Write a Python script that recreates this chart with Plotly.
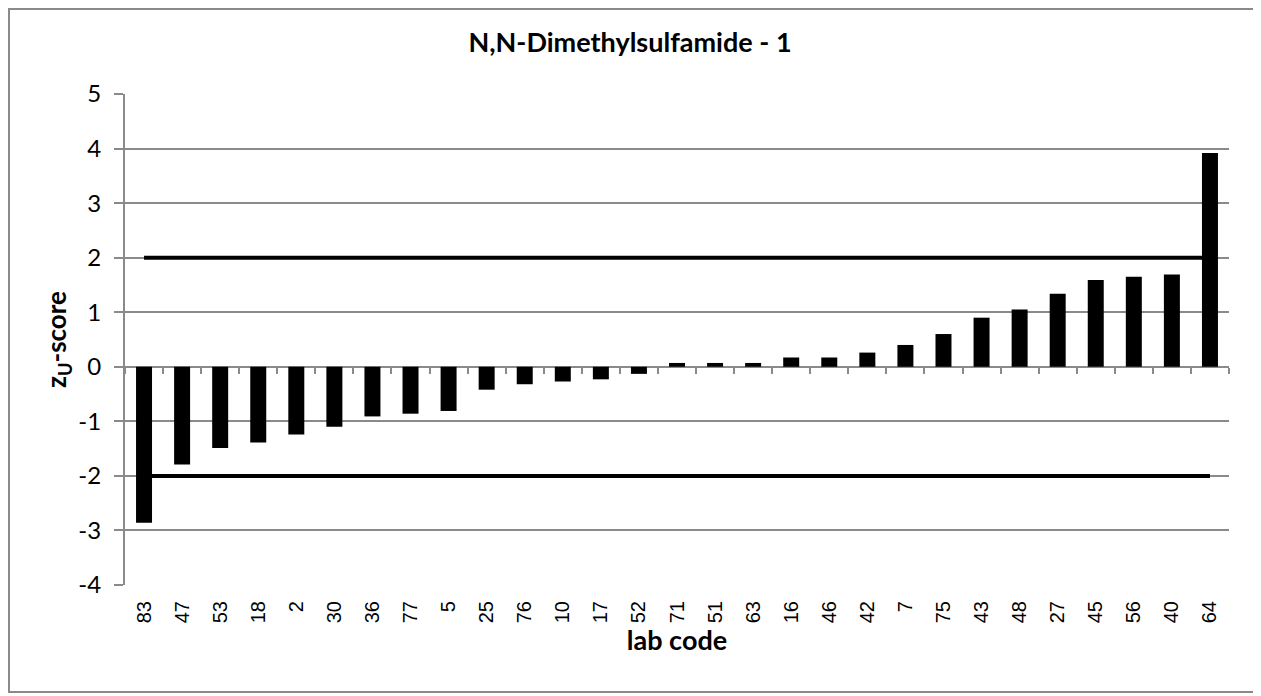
import plotly.graph_objects as go

lab_codes = ["83", "47", "53", "18", "2", "30", "36", "77", "5", "25", "76", "10", "17", "52",
             "71", "51", "63", "16", "46", "42", "7", "75", "43", "48", "27", "45", "56", "40", "64"]
z_scores = [-2.86, -1.79, -1.49, -1.39, -1.24, -1.10, -0.91, -0.86, -0.81, -0.42, -0.32, -0.27, -0.23, -0.13,
            0.07, 0.07, 0.07, 0.17, 0.17, 0.26, 0.40, 0.60, 0.90, 1.05, 1.34, 1.59, 1.65, 1.69, 3.92]
upper_limit = 2
lower_limit = -2
y_ticks = [-4, -3, -2, -1, 0, 1, 2, 3, 4, 5]
y_tick_labels = [str(v) for v in y_ticks]

GRID = "#8a8a8a"
FONT = "Lato"

# page offset of the plot div (browser body margin)
OFF = 8
W, H = 1261 - OFF, 696 - OFF
L, R, T, B = 125 - OFF, 32, 94 - OFF, 111
PW, PH = W - L - R, H - T - B

fig = go.Figure()
fig.add_trace(go.Bar(x=lab_codes, y=z_scores, marker=dict(color="black", line=dict(width=0)),
                     xaxis="x", yaxis="y", showlegend=False))
for lim in (upper_limit, lower_limit):
    fig.add_trace(go.Scatter(x=lab_codes, y=[lim] * len(lab_codes), mode="lines",
                             line=dict(color="black", width=4), xaxis="x2", yaxis="y",
                             showlegend=False))

rng = [-0.5, len(lab_codes) - 0.5]
fig.update_layout(
    width=W, height=H,
    margin=dict(l=L, r=R, t=T, b=B, pad=0),
    paper_bgcolor="white", plot_bgcolor="white",
    bargap=0.58,
    title=dict(text="N,N-Dimethylsulfamide - 1", x=(630 - OFF) / W, xanchor="center",
               y=1 - (43 - OFF) / H, yanchor="middle",
               font=dict(family=FONT, size=27, color="black", weight="bold")),
    xaxis=dict(type="category", categoryorder="array", categoryarray=lab_codes, range=rng,
               tickangle=-90, tickfont=dict(family="Liberation Sans", size=20, color="black"),
               showgrid=False, zeroline=False, showline=False, ticks="outside", ticklen=7,
               tickcolor="rgba(0,0,0,0)",
               title=dict(text="lab code", font=dict(family=FONT, size=27, color="black", weight="bold"),
                          standoff=8)),
    xaxis2=dict(type="category", categoryorder="array", categoryarray=lab_codes, range=rng,
                overlaying="x", anchor="free", position=(0 - y_ticks[0]) / (y_ticks[-1] - y_ticks[0]),
                side="bottom", showticklabels=False, ticks="outside", tickson="boundaries",
                ticklen=6, tickwidth=2, tickcolor=GRID, showgrid=False, zeroline=False, showline=False),
    yaxis=dict(range=[y_ticks[0], y_ticks[-1]], tickvals=y_ticks, ticktext=y_tick_labels,
               showgrid=True, gridcolor=GRID,
               gridwidth=2, zeroline=True, zerolinecolor=GRID, zerolinewidth=2,
               showline=True, linecolor=GRID, linewidth=2, ticks="outside", ticklen=9,
               tickwidth=2, tickcolor=GRID, ticklabelstandoff=8,
               tickfont=dict(family=FONT, size=24, color="black"),
               title=dict(text="z<sub>U</sub>-score",
                          font=dict(family=FONT, size=26, color="black", weight="bold"), standoff=4)),
    shapes=[dict(type="rect", xref="paper", yref="paper",
                 x0=(1 - L) / PW, x1=(1259 - OFF - L) / PW,
                 y0=(PH + T - (692 - OFF)) / PH, y1=(PH + T - 1) / PH,
                 line=dict(color=GRID, width=2), fillcolor="rgba(0,0,0,0)", layer="below")],
)

fig.write_html("out.html")
